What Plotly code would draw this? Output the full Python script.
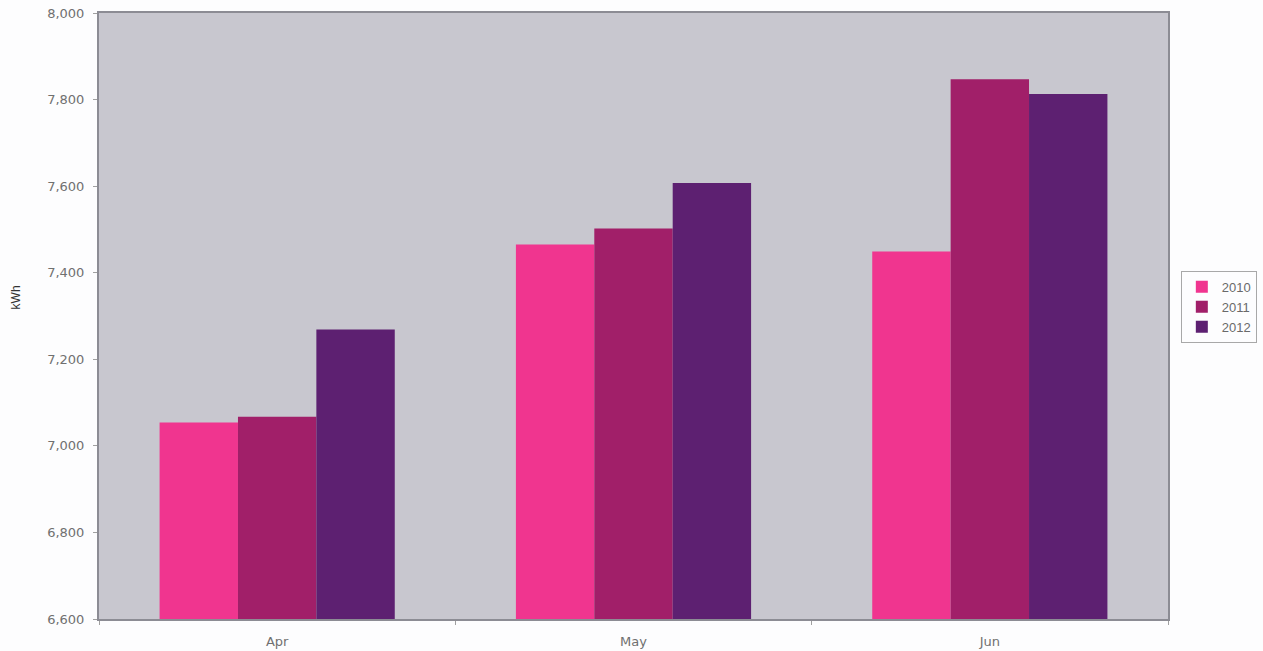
import plotly.graph_objects as go

months = ["Apr", "May", "Jun"]
years = ["2010", "2011", "2012"]
v2010 = [7054, 7465, 7449]
v2011 = [7067, 7502, 7847]
v2012 = [7269, 7607, 7813]
series = [v2010, v2011, v2012]
colors = ["#F0358F", "#A11F69", "#5D2071"]
y_ticks = [6600, 6800, 7000, 7200, 7400, 7600, 7800, 8000]

fig = go.Figure()
for yr, vals, c in zip(years, series, colors):
    fig.add_trace(go.Bar(x=months, y=vals, name=yr, marker=dict(color=c, line=dict(width=0))))

fig.update_layout(
    width=1263, height=651,
    margin=dict(l=99, r=95, t=13, b=32, autoexpand=False),
    paper_bgcolor="#FDFDFE",
    plot_bgcolor="#C8C7CF",
    barmode="group",
    bargap=0.34,
    bargroupgap=0,
    font=dict(family="DejaVu Sans, Liberation Sans, sans-serif", color="#707070", size=12),
    showlegend=True,
    legend=dict(
        x=1.012, y=0.515, xanchor="left", yanchor="middle",
        bordercolor="#A8A8A8", borderwidth=1, bgcolor="#FDFDFE",
        font=dict(family="Liberation Sans, Arial, sans-serif", size=13, color="#6A6A6A"),
        itemwidth=30, tracegroupgap=0,
    ),
    annotations=[dict(
        text="kWh", textangle=-90, xref="paper", yref="paper",
        x=-0.078, y=0.53, xanchor="center", yanchor="middle", showarrow=False,
        font=dict(family="Liberation Sans, Arial, sans-serif", size=12, color="#333333"),
    )],
)
fig.update_xaxes(
    showline=True, linecolor="#8C8C94", linewidth=2, mirror=True,
    ticks="outside", tickson="boundaries", ticklen=4, tickcolor="#A0A0A0",
    showgrid=False, tickfont=dict(size=13), ticklabelstandoff=9,
)
fig.update_yaxes(
    range=[6600, 8000], tickvals=y_ticks, tickformat=",d",
    showline=True, linecolor="#8C8C94", linewidth=2, mirror=True,
    ticks="outside", ticklen=4, tickcolor="#A0A0A0",
    showgrid=False, zeroline=False, tickfont=dict(size=13), ticklabelstandoff=6,
)
fig.write_html("out.html")
